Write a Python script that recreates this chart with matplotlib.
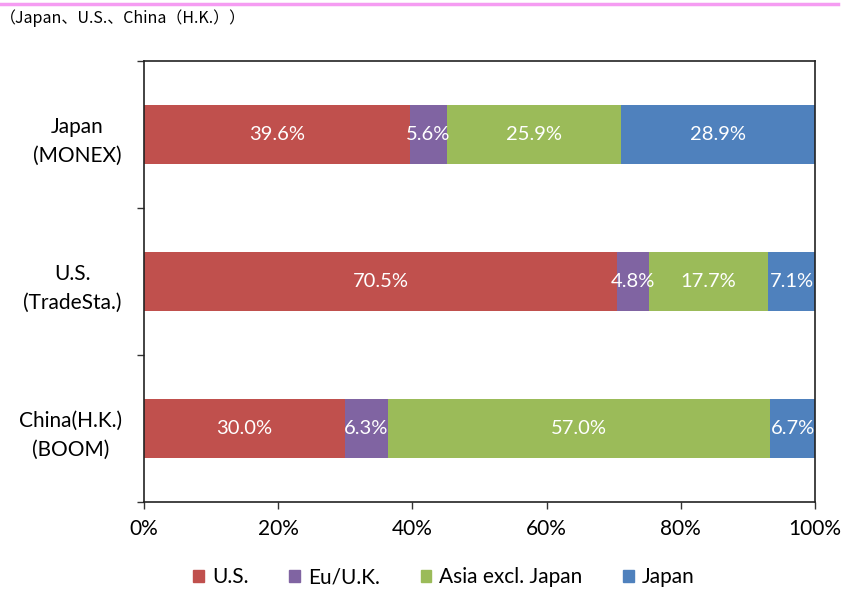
import matplotlib
matplotlib.use("Agg")
import matplotlib.pyplot as plt
from matplotlib.lines import Line2D
import numpy as np

# Share of holdings by region for each broker's customer base (%)
brokers = ["Japan\n(MONEX)", "U.S.\n(TradeSta.)", "China(H.K.)\n(BOOM)"]
regions = ["U.S.", "Eu/U.K.", "Asia excl. Japan", "Japan"]
us_share = [39.6, 70.5, 30.0]
eu_share = [5.6, 4.8, 6.3]
asia_share = [25.9, 17.7, 57.0]
japan_share = [28.9, 7.1, 6.7]
colors = ["#C0504D", "#8064A2", "#9BBB59", "#4F81BD"]
x_ticks = [0, 20, 40, 60, 80, 100]
subtitle = "（Japan、U.S.、China（H.K.））"

plt.rcParams["font.family"] = ["Lato", "DejaVu Sans"]

fig = plt.figure(figsize=(8.41, 5.89), dpi=100)
ax = fig.add_axes([144 / 841, 1 - 502 / 589, (815 - 144) / 841, (502 - 61) / 589])

series = [us_share, eu_share, asia_share, japan_share]
y = np.arange(len(brokers))
left = np.zeros(len(brokers))
for vals, name, col in zip(series, regions, colors):
    vals = np.array(vals)
    ax.barh(y, vals, left=left, height=0.4, color=col, label=name,
            edgecolor="none")
    for yi, (l, v) in enumerate(zip(left, vals)):
        ax.text(l + v / 2, yi, f"{v:.1f}%", ha="center", va="center",
                color="white", fontsize=14.5)
    left = left + vals

ax.set_xlim(0, 100)
ax.set_ylim(len(brokers) - 0.5, -0.5)
ax.set_xticks(x_ticks)
ax.set_xticklabels([f"{t}%" for t in x_ticks], fontsize=15)
ax.set_yticks(y)
ax.set_yticklabels(brokers, fontsize=15, multialignment="center",
                   linespacing=1.6)
ax.set_yticks(np.arange(-0.5, len(brokers)), minor=True)
ax.tick_params(axis="y", which="major", length=0, pad=16)
ax.tick_params(axis="y", which="minor", length=5, width=1, color="#333333")
ax.tick_params(axis="x", which="major", length=5, width=1, pad=7,
               color="#333333")
for side in ["left", "bottom", "top", "right"]:
    ax.spines[side].set_color("#222222")
    ax.spines[side].set_linewidth(1.2)

handles = [plt.Rectangle((0, 0), 1, 1, color=c) for c in colors]
fig.legend(handles, regions, loc="center",
           bbox_to_anchor=(444 / 841, 1 - 577 / 589),
           ncol=4, frameon=False, fontsize=15, handlelength=0.5,
           handleheight=0.5, handletextpad=0.4, columnspacing=1.95)

# Header rule and subtitle
fig.add_artist(Line2D([0, 838 / 841], [1 - 4 / 589, 1 - 4 / 589],
                      color="#F59CF2", linewidth=2.5,
                      transform=fig.transFigure))
fig.text(0, 1 - 18 / 589, subtitle, ha="left", va="center",
         fontsize=11.5, family=["Noto Sans CJK JP", "DejaVu Sans"])

fig.savefig("out.png", dpi=100)
